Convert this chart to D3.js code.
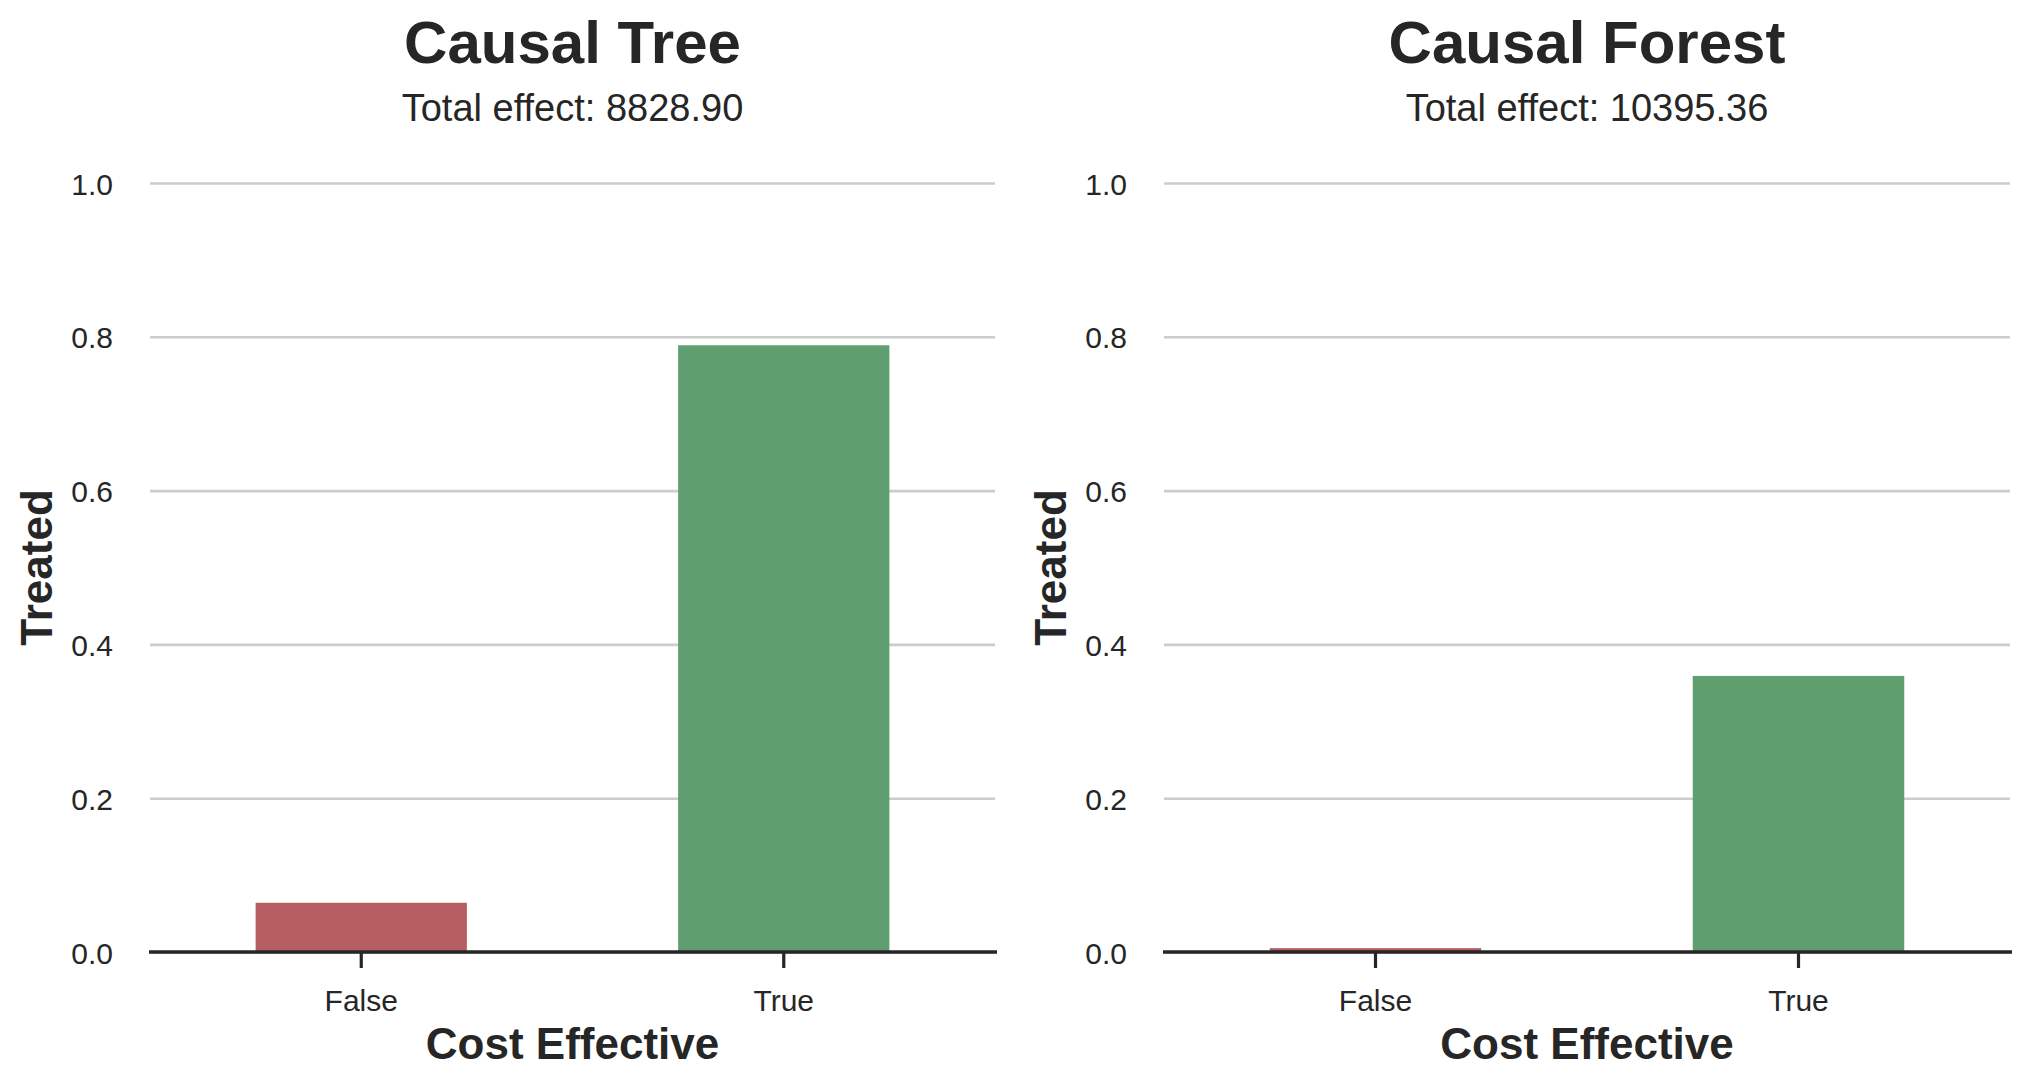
<!DOCTYPE html>
<html>
<head>
<meta charset="utf-8">
<script src="https://cdn.jsdelivr.net/npm/d3@7"></script>
<style>
  html, body { margin: 0; padding: 0; background: #ffffff; }
  svg { display: block; }
  text { font-family: "Liberation Sans", Arial, Helvetica, sans-serif; fill: #262626; }
</style>
</head>
<body>
<svg id="chart" width="2029" height="1088"></svg>
<script>
// ---- data ----
const categories = ["False", "True"];
const panelTitles = ["Causal Tree", "Causal Forest"];
const totalEffects = ["8828.90", "10395.36"];
const treeValues = [0.064, 0.789];
const forestValues = [0.005, 0.359];
const yTicks = [0.0, 0.2, 0.4, 0.6, 0.8, 1.0];
const barColors = ["#b55d60", "#5f9e6e"];
const xLabel = "Cost Effective";
const yLabel = "Treated";

const seriesList = [treeValues, forestValues];

// ---- layout ----
const svg = d3.select("#chart");
const panelX = [[150, 995], [1164, 2010]];
const yTop = 183, yBottom = 952;

const y = d3.scaleLinear().domain([0, 1]).range([yBottom, yTop]);

seriesList.forEach((values, i) => {
  const [x0, x1] = panelX[i];
  const g = svg.append("g");
  const x = d3.scaleBand().domain(categories).range([x0, x1]).paddingInner(0.5).paddingOuter(0.25);

  // gridlines + y tick labels
  const yAxis = d3.axisLeft(y).tickValues(yTicks).tickFormat(d3.format(".1f"))
    .tickSize(-(x1 - x0)).tickPadding(37);
  const gy = g.append("g").attr("transform", `translate(${x0},0)`).call(yAxis);
  gy.select(".domain").remove();
  gy.selectAll(".tick line").attr("stroke", "#cccccc").attr("stroke-width", 2.6);
  gy.selectAll(".tick text").attr("font-size", 30).attr("fill", "#262626")
    .attr("dy", "0.37em");

  // bars
  g.append("g").selectAll("rect").data(values).join("rect")
    .attr("x", (d, j) => x(categories[j]))
    .attr("width", x.bandwidth())
    .attr("y", d => y(d))
    .attr("height", d => y(0) - y(d))
    .attr("fill", (d, j) => barColors[j]);

  // bottom axis
  const xAxis = d3.axisBottom(x).tickSize(16).tickPadding(22).tickSizeOuter(0);
  const gx = g.append("g").attr("transform", `translate(0,${yBottom})`).call(xAxis);
  gx.select(".domain").attr("stroke", "#262626").attr("stroke-width", 3.6)
    .attr("d", `M${x0 - 1},0H${x1 + 2}`);
  gx.selectAll(".tick line").attr("stroke", "#262626").attr("stroke-width", 3.2);
  gx.selectAll(".tick text").attr("font-size", 30).attr("fill", "#262626");

  const cx = (x0 + x1) / 2;
  // titles
  g.append("text").attr("x", cx).attr("y", 63).attr("text-anchor", "middle")
    .attr("font-size", 60).attr("font-weight", "bold").text(panelTitles[i]);
  g.append("text").attr("x", cx).attr("y", 121).attr("text-anchor", "middle")
    .attr("font-size", 38).text("Total effect: " + totalEffects[i]);

  // axis labels
  g.append("text").attr("x", cx).attr("y", 1059).attr("text-anchor", "middle")
    .attr("font-size", 44).attr("font-weight", "bold").text(xLabel);
  const ly = (yTop + yBottom) / 2;
  const lx = x0 - 98;
  g.append("text").attr("transform", `translate(${lx},${ly}) rotate(-90)`)
    .attr("text-anchor", "middle").attr("font-size", 44).attr("font-weight", "bold")
    .text(yLabel);
});
</script>
</body>
</html>
